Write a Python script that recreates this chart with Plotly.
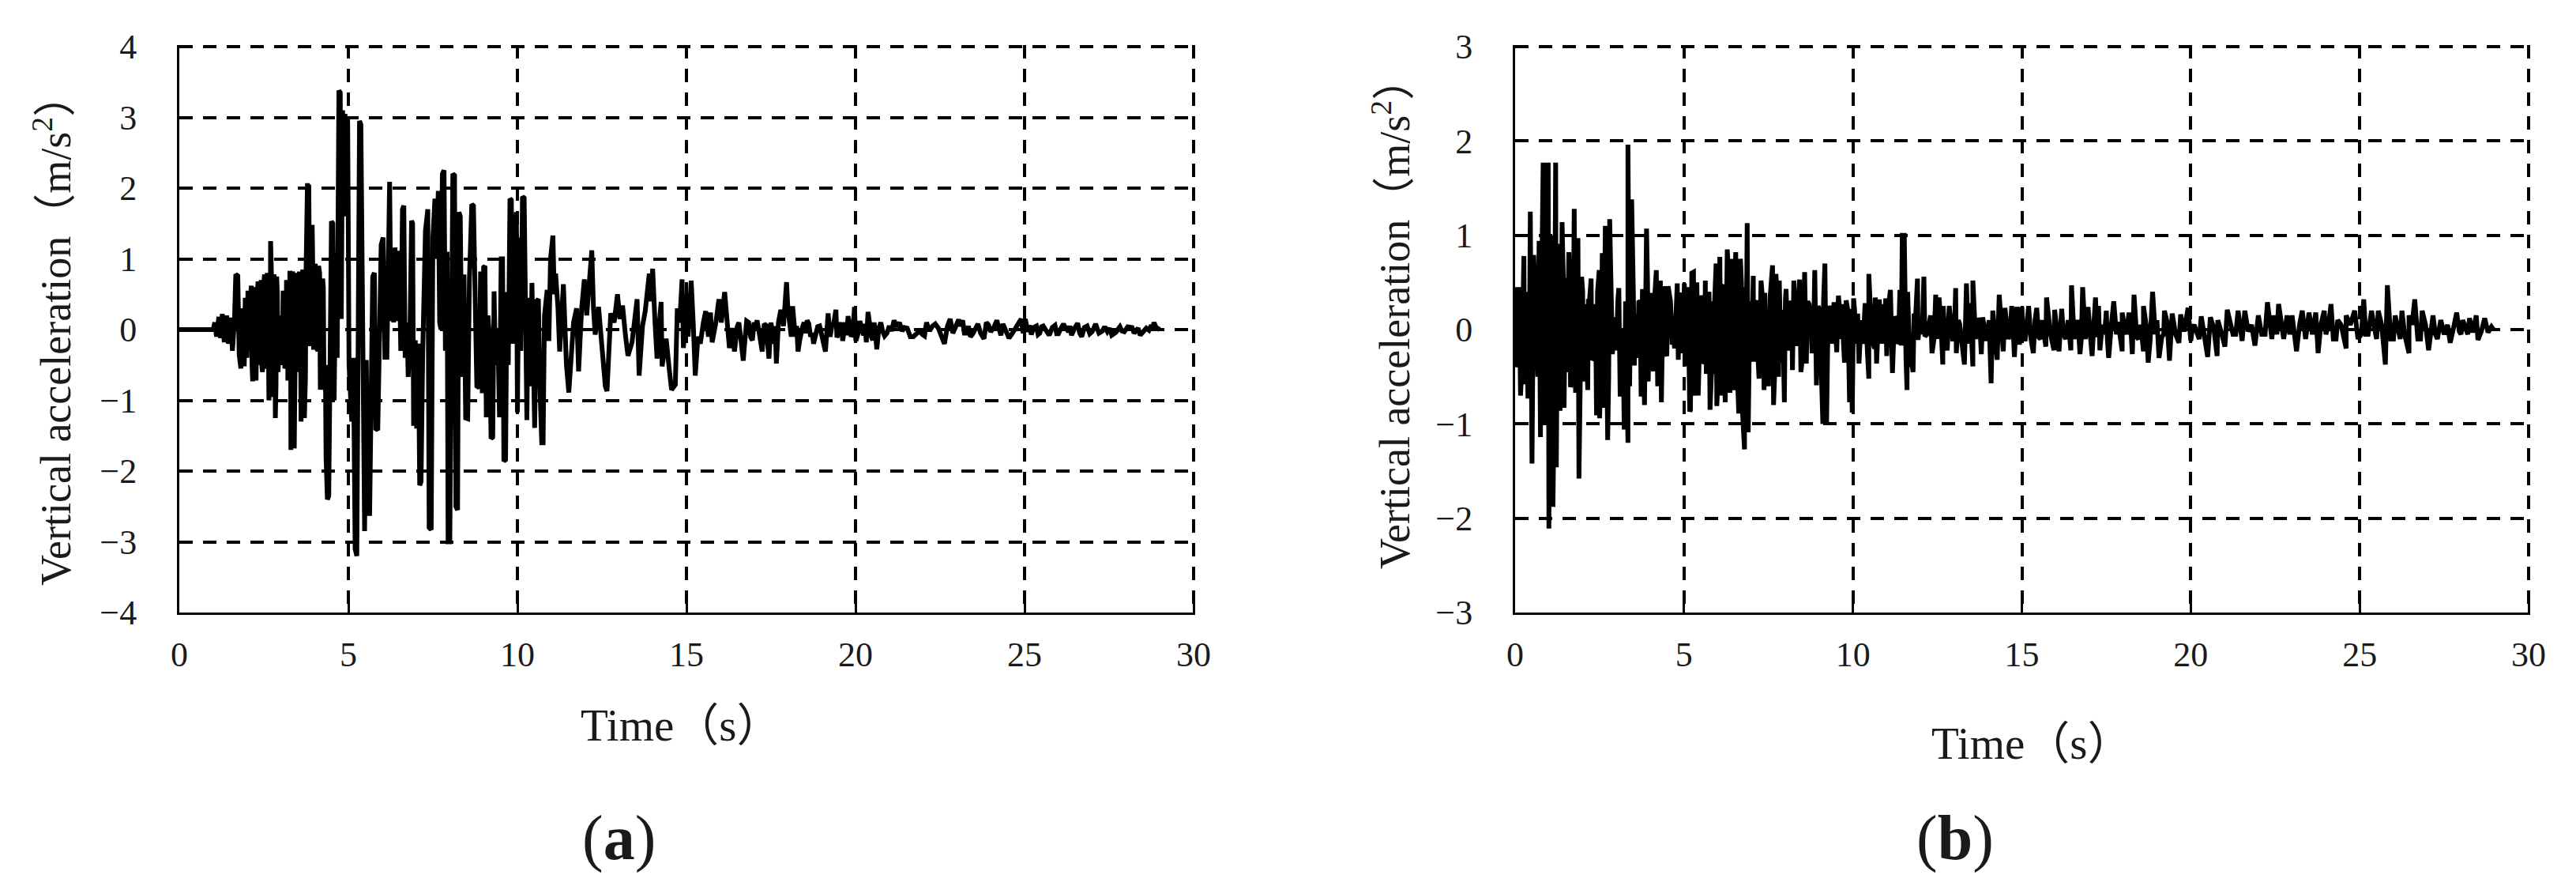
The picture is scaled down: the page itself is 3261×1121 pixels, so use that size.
import plotly.graph_objects as go

# Panel (a): (time s, vertical acceleration m/s2)
wave_a = [
(0,0),(1.0,0),(1.05,.1),(1.1,-.1),(1.17,.18),(1.22,-.12),(1.27,.22),(1.33,-.18),(1.4,.2),(1.45,-.2),(1.52,.17),(1.57,-.3),
(1.63,.12),(1.67,.78),(1.73,.76),(1.77,-.35),(1.82,-.55),(1.87,.3),(1.92,-.52),(1.95,.45),(2.0,-.4),(2.03,.55),(2.08,-.3),
(2.13,.62),(2.17,-.73),(2.22,.6),(2.27,-.72),(2.33,.68),(2.37,-.1),(2.42,.7),(2.46,-.6),(2.52,.78),(2.57,-.55),(2.6,.8),
(2.65,-1.0),(2.7,1.25),(2.75,-.95),(2.8,.78),(2.84,-1.25),(2.88,.75),(2.92,-.6),(2.97,.05),(3.02,-.5),(3.07,.55),(3.12,-.55),
(3.17,.7),(3.21,-.72),(3.27,.83),(3.3,-1.7),(3.35,.82),(3.4,-1.68),(3.45,.8),(3.5,-.3),(3.55,.82),(3.6,-1.3),(3.65,.85),
(3.7,-1.25),(3.75,.88),(3.79,2.07),(3.83,2.05),(3.86,-.2),(3.93,1.48),(3.97,-.25),(4.02,.93),(4.07,-.27),(4.12,.9),(4.17,-.85),
(4.24,.72),(4.28,-.85),(4.34,-1.8),(4.38,-2.4),(4.42,-2.35),(4.46,-1.0),(4.5,1.53),(4.54,1.5),(4.58,-1.0),(4.63,1.08),(4.67,-.4),
(4.72,3.38),(4.76,3.35),(4.79,.15),(4.83,3.1),(4.87,1.6),(4.9,3.05),(4.94,1.7),(4.98,2.95),(5.02,-.5),(5.06,-1.0),(5.1,-1.3),
(5.15,-.4),(5.2,-3.1),(5.25,-3.2),(5.29,-.3),(5.33,2.95),(5.37,2.9),(5.43,-.4),(5.48,-2.85),(5.53,-.43),(5.58,-2.6),(5.63,-2.6),
(5.68,-.43),(5.72,.75),(5.77,.8),(5.81,-1.4),(5.87,-1.42),(5.92,.1),(5.97,1.2),(6.03,1.3),(6.08,-.39),(6.14,-.39),(6.18,1.1),
(6.22,2.09),(6.26,.12),(6.3,1.1),(6.34,.1),(6.38,1.16),(6.42,.12),(6.46,1.08),(6.5,1.08),(6.55,-.3),(6.6,1.7),(6.64,1.75),
(6.68,-.4),(6.73,.1),(6.77,-.67),(6.82,-.1),(6.87,1.54),(6.9,1.5),(6.93,-1.36),(6.98,-.15),(7.02,-1.4),(7.07,-.2),(7.11,-2.2),
(7.15,-2.15),(7.2,-.3),(7.28,1.4),(7.35,1.7),(7.39,-2.8),(7.45,-2.83),(7.5,1.3),(7.56,1.85),(7.6,1.0),(7.66,1.96),(7.7,.1),
(7.74,0),(7.78,2.2),(7.83,2.25),(7.87,-.3),(7.92,1.1),(7.95,-3.0),(8.0,-3.0),(8.05,.6),(8.09,2.2),(8.14,2.18),(8.18,-2.5),
(8.23,-2.55),(8.27,1.66),(8.31,1.6),(8.36,-.67),(8.42,.78),(8.47,-1.25),(8.53,-1.26),(8.58,.7),(8.65,1.77),(8.7,1.75),(8.76,.2),
(8.8,-.8),(8.87,-.82),(8.91,.82),(8.96,-.9),(9.0,.88),(9.04,.9),(9.08,-1.24),(9.13,.2),(9.18,-.15),(9.22,-1.54),(9.27,-1.52),
(9.31,.54),(9.35,-.5),(9.42,0),(9.47,-1.24),(9.52,1.0),(9.56,1.0),(9.6,-1.86),(9.65,-1.84),(9.69,.53),(9.73,-.5),(9.78,1.85),
(9.82,1.83),(9.87,-.2),(9.92,1.1),(9.97,1.66),(10.0,-1.17),(10.05,1.3),(10.1,-.3),(10.15,1.88),(10.2,1.86),(10.24,-.5),
(10.28,-1.28),(10.32,.45),(10.38,-.8),(10.43,.66),(10.48,-1.0),(10.51,-1.39),(10.56,.4),(10.62,.43),(10.67,-.9),(10.72,-1.6),
(10.76,-1.6),(10.8,.19),(10.88,.56),(10.93,-.16),(10.98,1.0),(11.05,1.33),(11.09,.5),(11.13,.79),(11.2,.3),(11.25,-.31),
(11.36,.64),(11.45,-.5),(11.52,-.89),(11.58,-.5),(11.66,.1),(11.75,.3),(11.81,-.59),(11.9,.3),(11.98,.71),(12.05,.2),(12.13,.7),
(12.2,1.12),(12.25,.3),(12.3,-.07),(12.4,.32),(12.5,-.3),(12.6,-.8),(12.65,-.87),(12.7,-.4),(12.76,.23),(12.86,.1),(12.96,.5),
(13.03,.15),(13.11,.34),(13.2,-.1),(13.27,-.37),(13.39,-.18),(13.5,.2),(13.54,.43),(13.6,-.65),(13.7,.05),(13.78,.26),(13.9,.79),
(13.95,.4),(14.0,.86),(14.07,.1),(14.13,-.41),(14.2,.1),(14.25,.39),(14.28,-.52),(14.4,-.13),(14.5,-.6),(14.56,-.85),(14.67,-.78),
(14.73,.3),(14.8,.1),(14.87,.71),(14.91,-.26),(15.0,.5),(15.05,-.1),(15.14,.69),(15.2,.1),(15.26,-.65),(15.34,-.1),(15.41,-.2),
(15.5,.1),(15.57,.26),(15.65,-.1),(15.71,.24),(15.76,-.18),(15.87,.1),(15.96,.43),(16.03,.1),(16.13,.53),(16.2,.1),(16.27,-.26),
(16.34,.02),(16.42,-.31),(16.5,.04),(16.6,-.1),(16.68,-.44),(16.78,.12),(16.9,-.11),(17.0,.1),(17.09,.13),(17.17,-.1),(17.24,-.31),
(17.36,.06),(17.44,-.41),(17.5,.1),(17.58,-.2),(17.66,-.48),(17.72,.1),(17.79,.28),(17.87,.05),(17.96,.67),(18.0,.3),(18.06,-.03),
(18.14,.33),(18.22,-.1),(18.3,-.31),(18.4,.02),(18.48,.1),(18.57,.13),(18.67,-.1),(18.76,-.2),(18.88,.04),(19.0,-.1),(19.11,-.31),
(19.19,.23),(19.3,.05),(19.42,.28),(19.45,-.11),(19.55,.05),(19.62,-.16),(19.7,.1),(19.78,.19),(19.87,-.1),(19.97,.32),(20.01,-.16),
(20.13,.12),(20.24,-.08),(20.32,-.18),(20.37,.25),(20.47,-.1),(20.55,.1),(20.63,-.28),(20.75,.1),(20.86,-.09),
(21.0,.05),(21.14,.13),(21.3,.1),(21.45,.03),(21.62,-.1),(21.8,-.07),(21.98,-.07),(22.1,.1),(22.28,.05),(22.45,.02),(22.63,-.2),
(22.8,.15),(22.95,.05),(23.05,.14),(23.17,.13),(23.28,-.05),(23.4,-.1),(23.55,.03),(23.7,-.05),(23.8,-.13),(23.87,.1),(24.0,-.03),
(24.18,.13),(24.3,-.08),(24.42,.02),(24.54,-.12),(24.72,.02),(24.9,.15),(24.96,-.05),(25.02,.15),(25.1,-.03),(25.2,-.07),(25.35,.05),
(25.45,-.05),(25.55,.05),(25.73,-.08),(25.9,.06),(26.0,-.06),(26.15,.08),(26.3,-.03),(26.39,-.08),(26.57,.09),(26.69,-.1),(26.85,.05),
(27.0,-.03),(27.1,.08),(27.3,-.02),(27.45,-.03),(27.58,-.08),(27.82,.04),(27.95,-.03),(28.18,.03),(28.3,-.02),(28.42,-.08),
(28.6,.02),(28.75,.06),(28.83,.1),(28.92,.02),(29.0,0)]

# Panel (a): interior of the solid band and fine jitter of the tail
detail_a = [
(1.9,.1),(2.05,-.2),(2.1,.4),(2.15,-.5),(2.2,.45),(2.25,-.45),(2.3,.5),(2.35,-.5),(2.4,.5),(2.44,-.5),(2.49,.6),(2.55,-.5),
(2.62,.6),(2.68,-.7),(2.73,.7),(2.78,-.8),(2.82,.6),(2.86,-.8),(2.9,.5),(2.95,-.3),(3.0,.2),(3.05,-.4),(3.1,.4),(3.15,-.5),
(3.19,.6),(3.24,-.6),(3.29,.7),(3.33,-.8),(3.38,.7),(3.43,-.7),(3.48,.7),(3.53,-.6),(3.58,.7),(3.63,-.8),(3.68,.7),(3.73,-.7),
(3.81,.5),(3.85,.5),(3.9,-.2),(3.95,.8),(4.0,-.25),(4.05,.8),(4.1,-.3),(4.15,.8),(4.2,-.6),(4.26,.6),(4.32,-.5),
(16.55,.1),(16.72,-.2),(16.84,.1),(16.95,-.15),(17.04,.05),(17.3,.08),(17.4,-.2),(17.54,-.1),(17.62,.05),(18.1,-.1),(18.26,.05),
(18.35,-.15),(18.44,.05),(18.52,-.05),(18.62,.08),(18.72,-.05),(18.82,-.1),(18.94,.05),(19.05,-.2),(19.25,-.1),(19.36,.1),(19.5,-.05),
(19.58,.1),(19.66,-.02),(19.74,-.08),(19.83,.05),(19.92,-.05),(20.08,-.05),(20.18,.02),(20.28,.08),(20.42,.02),(20.51,-.15),(20.59,-.05),
(20.69,.02),(20.8,-.02),(20.93,-.05),(21.07,-.02),(21.22,.04),(21.38,-.02),(21.53,.02),(21.71,-.1),(21.89,-.02),(22.04,-.09),(22.19,-.02),
(22.36,.08),(22.54,-.08),(22.72,.05),(22.88,-.05),(23.0,.1),(23.11,.05),(23.22,-.05),(23.34,.05),(23.47,-.06),(23.62,.08),(23.75,-.09),
(23.93,.07),(24.09,.03),(24.24,.02),(24.36,.08),(24.48,-.04),(24.63,-.06),(24.81,.1),(25.15,.06),(25.27,.03),(25.4,-.07),(25.5,.04),
(25.64,-.03),(25.82,.03),(25.95,-.06),(26.08,.02),(26.22,.02),(26.34,.05),(26.48,.02),(26.63,-.05),(26.77,.03),(26.93,-.06),(27.05,.02),
(27.2,-.05),(27.37,.04),(27.52,.02),(27.7,-.04),(27.88,-.02),(28.05,.04),(28.24,-.05),(28.36,.02),(28.51,-.04),(28.68,-.01),(28.79,.02),(28.87,.05)]
wave_a_all = sorted(wave_a + detail_a)

# Panel (b): upper and lower extremes of the record
peaks_b = [
(.05,.45),(.12,.45),(.26,.78),(.45,1.25),(.55,.79),(.71,.94),(.83,1.77),(.92,1.77),(.98,1.77),(1.1,1.0),(1.2,1.77),(1.29,.91),
(1.39,1.14),(1.49,.55),(1.59,.82),(1.75,1.28),(1.86,.97),(1.97,.56),(2.07,.27),(2.17,.3),(2.25,.54),(2.38,.27),(2.49,.63),(2.58,.81),
(2.67,1.1),(2.8,1.17),(2.93,.13),(3.07,.44),(3.19,0),(3.34,1.96),(3.45,1.38),(3.55,.16),(3.66,.29),(3.77,.43),(3.89,1.07),(4.0,.39),
(4.18,.63),(4.3,.52),(4.42,.46),(4.53,.46),(4.67,.08),(4.8,.49),(4.92,.39),(5.01,.49),(5.12,.45),(5.23,.6),
(5.28,.61),(5.38,.5),(5.5,.36),(5.63,.52),(5.74,.4),(5.85,.3),(5.95,.7),(6.06,.77),(6.18,.47),(6.28,.85),(6.4,.75),(6.53,.82),
(6.67,.75),(6.79,.45),(6.87,1.13),(7.05,.57),(7.16,.31),(7.28,.52),(7.39,.39),(7.49,0),(7.62,.68),(7.72,.59),(7.82,.52),(7.92,.21),
(8.02,.43),(8.14,.27),(8.25,.52),(8.42,.53),(8.57,.61),(8.7,.27),(8.76,.15),(8.87,.63),(9.01,.21),(9.17,.7),(9.3,.25),(9.44,.29),
(9.57,.36),(9.68,.27),(9.8,.31),(9.92,.22),(10.02,.33),(10.14,.17),(10.24,.1),(10.36,.28),(10.47,.59),(10.56,.27),(10.66,.34),
(10.78,.32),(10.88,.27),(10.97,.33),(11.11,.42),(11.23,.14),(11.39,.42),(11.46,1.0),(11.52,1.0),(11.62,.4),(11.81,.17),(11.91,.54),
(12.01,.1),(12.1,.56),(12.25,.1),(12.45,.37),(12.55,.34),(12.67,.25),(12.85,.25),(13.04,.44),(13.16,.06),(13.36,.49),(13.45,.28),
(13.55,.52),(13.7,.12),(13.84,.13),(14.14,.2),(14.33,.37),(14.5,.23),(14.7,.25),(14.85,.24),(15.0,.24),(15.2,.25),(15.44,.23),
(15.73,.34),(15.97,.21),(16.18,.22),(16.47,.47),(16.64,.1),(16.8,.45),(16.96,.24),(17.18,.34),(17.27,.25),(17.5,.2),(17.72,.3),
(17.97,.18),(18.17,.18),(18.32,.37),(18.6,.25),(18.87,.4),(19.22,.2),(19.45,.17),(19.7,.16),(19.92,.23),(20.1,.05),(20.31,.14),
(20.58,.13),(20.8,.1),(21.08,.21),(21.4,.2),(21.6,.2),(21.8,.05),(22.0,.15),(22.27,.29),(22.45,.15),(22.6,.27),(22.85,.15),(23.0,.15),
(23.3,.2),(23.5,.18),(23.7,.18),(23.95,.2),(24.15,.27),(24.35,.1),(24.6,.15),(24.85,.2),(25.12,.32),(25.35,.2),(25.55,.2),(25.82,.47),
(26.05,.15),(26.25,.2),(26.46,.15),(26.63,.32),(26.85,.2),(27.17,.15),(27.4,.1),(27.6,.05),(27.87,.18),(28.05,.1),(28.25,.12),
(28.45,.15),(28.7,.12),(28.9,.03)]
troughs_b = [
(.02,-.4),(.09,-.4),(.16,-.7),(.28,-.58),(.38,-.73),(.5,-1.42),(.63,-.22),(.75,-1.14),(.87,-1.01),(1.0,-2.11),(1.06,-1.6),(1.12,-1.88),
(1.22,-1.46),(1.33,-.86),(1.45,-.83),(1.54,-.45),(1.64,-.61),(1.79,-.67),(1.89,-1.58),(2.02,-.55),(2.15,-.64),(2.27,-.32),(2.41,-.91),
(2.5,-.94),(2.62,-.83),(2.74,-1.17),(2.88,-.26),(3.0,-.22),(3.11,-.71),(3.23,-1.06),(3.34,-1.2),(3.53,-.38),(3.6,-.3),(3.73,-.71),
(3.83,-.8),(3.94,-.55),(4.1,-.44),(4.22,-.6),(4.33,-.77),(4.49,-.28),(4.65,-.16),(4.83,-.32),(5.04,-.39),(5.17,-.87),
(5.19,-.85),(5.33,-.7),(5.42,-.7),(5.48,-.14),(5.58,-.36),(5.66,-.47),(5.77,-.85),(5.86,-.47),(5.97,-.81),(6.09,-.7),(6.22,-.77),
(6.36,-.67),(6.48,-.64),(6.62,-.89),(6.72,-.8),(6.79,-1.27),(6.9,-1.09),(7.06,-.34),(7.22,-.52),(7.37,-.64),(7.5,-.6),(7.65,-.8),
(7.8,-.5),(7.97,-.77),(8.08,-.2),(8.21,-.43),(8.34,-.15),(8.46,-.45),(8.62,-.36),(8.79,-.25),(8.92,-.59),(9.11,-1.0),(9.22,-1.0),
(9.25,-.21),(9.38,-.15),(9.52,-.24),(9.63,-.1),(9.75,-.35),(9.9,-.77),(9.98,-.88),(10.08,-.15),(10.18,-.36),(10.3,-.15),(10.47,-.52),
(10.6,-.15),(10.7,-.36),(10.85,-.15),(11.0,-.28),(11.17,-.46),(11.3,-.15),(11.43,-.17),(11.6,-.64),(11.69,-.4),(11.78,-.45),(11.93,-.11),
(12.13,-.07),(12.34,-.25),(12.5,-.1),(12.66,-.37),(12.79,-.22),(12.95,-.1),(13.06,-.25),(13.3,-.37),(13.42,-.15),(13.55,-.39),(13.8,-.26),
(14.09,-.57),(14.27,-.32),(14.45,-.23),(14.6,-.1),(14.78,-.29),(14.93,-.16),(15.1,-.1),(15.34,-.25),(15.55,-.1),(15.71,-.18),(15.85,-.05),
(15.95,-.22),(16.1,-.23),(16.3,-.1),(16.45,-.22),(16.72,-.26),(16.88,-.1),(17.08,-.28),(17.31,-.22),(17.45,-.05),(17.57,-.3),(17.8,-.05),
(17.97,-.23),(18.1,-.05),(18.27,-.26),(18.45,-.1),(18.6,-.23),(18.74,-.35),(18.95,-.05),(19.06,-.3),(19.2,-.05),(19.37,-.33),(19.65,-.14),
(20.0,-.12),(20.25,-.1),(20.5,-.29),(20.78,-.28),(21.01,-.18),(21.25,-.05),(21.52,-.12),(21.9,-.17),(22.1,-.05),(22.4,-.1),(22.75,-.1),
(23.13,-.23),(23.4,-.1),(23.77,-.25),(24.0,-.05),(24.3,-.1),(24.6,-.2),(24.95,-.1),(25.25,-.05),(25.5,-.1),(25.76,-.37),(26.0,-.1),(26.2,-.1),
(26.46,-.25),(26.8,-.1),(27.04,-.22),(27.3,-.1),(27.68,-.14),(28.0,-.05),(28.2,-.05),(28.5,-.11),(28.8,-.03),(28.96,0)]

# Panel (b): interior of the solid band, between the extremes above
core_b = [
(.07,.3),(.2,-.4),(.33,.4),(.42,-.4),(.58,.5),(.67,-.5),(.79,.6),(.94,-.6),(1.04,.7),(1.16,-.7),(1.26,.6),(1.36,-.6),(1.43,.5),(1.52,-.4),
(1.62,.5),(1.71,-.5),(1.83,.5),(1.93,-.5),(2.0,.4),(2.11,-.4),(2.2,.3),(2.32,-.3),(2.44,.4),(2.54,-.5),(2.65,.5),(2.77,-.5),(2.85,.4),
(2.97,-.2),(3.04,.3),(3.15,-.4),(3.27,.3),(3.39,-.6),(3.5,.4),(3.63,-.3),(3.7,.3),(3.8,-.4),(3.92,.5),(4.04,-.35),(4.14,.4),(4.26,-.4),
(4.38,.35),(4.46,-.25),(4.6,.3),(4.72,-.2),(4.87,.3),(4.96,-.25),(5.07,.3),(5.15,-.4),(5.31,-.5),(5.35,.4),(5.45,-.4),(5.55,.3),(5.61,-.35),
(5.7,.3),(5.82,-.4),(5.9,.25),(6.01,-.5),(6.12,.45),(6.2,-.5),(6.33,.5),(6.43,-.5),(6.5,.5),(6.58,-.5),(6.7,.5),(6.83,-.6),(6.95,.3),(7.0,-.25),
(7.12,.25),(7.19,-.3),(7.33,.3),(7.44,-.35),(7.55,.35),(7.68,-.5),(7.77,.3),(7.87,-.35),(8.0,.3),(8.11,-.2),(8.18,.3),(8.3,-.15),(8.38,.3),
(8.52,-.25),(8.66,.3),(8.83,-.15),(8.97,.25),(9.06,-.3),(9.13,.3),(9.2,-.3),(9.35,.2),(9.48,-.15),(9.6,.25),(9.72,-.15),(9.85,.2),(9.95,-.3),
(10.05,.2),(10.2,-.2),(10.33,.2),(10.43,-.25),(10.52,.2),(10.64,-.2),(10.75,.2),(10.92,-.15),(11.05,.25),(11.14,-.25),(11.27,.1),(11.35,-.1),
(11.57,-.3),(11.7,-.25),(11.85,.1),(11.97,.1),(12.05,-.05),(12.2,-.05),(12.3,.15),(12.4,-.1),(12.6,.1),(12.73,-.1),(12.9,.12),(13.0,-.1),
(13.12,.1),(13.22,-.1),(13.48,.15),(13.63,-.1),(13.75,.08),(13.95,-.12),(14.03,.1),(14.2,-.1),(14.4,-.05),(14.55,.1),(14.65,-.05),(14.73,.1),
(14.9,.1),(15.05,-.1),(15.15,.05),(15.27,-.1),(15.39,.1),(15.5,-.08),(15.6,.1),(15.8,.08),(16.02,.05),(16.23,-.05),(16.37,.1),(16.55,-.1),
(16.67,.05),(16.76,-.1),(16.92,.08),(17.03,-.08),(17.13,.05),(17.23,-.08),(17.38,.05),(17.53,-.1),(17.65,.05),(17.85,.08),(18.03,.05),(18.22,.05),
(18.4,-.08),(18.52,.05),(18.68,.05),(18.8,-.1),(19.0,.1),(19.14,-.08),(19.3,.08),(19.55,-.05),(19.8,-.02),(20.05,.02),(20.2,-.05),(20.4,-.1),
(20.68,.02),(20.92,-.05),(21.18,.05),(21.33,-.05),(21.7,-.02),(22.2,-.05),(22.35,.05),(22.55,-.05),(22.68,.05),(22.93,-.05),(23.22,.05),
(23.6,-.05),(23.85,.05),(24.08,.05),(24.22,-.1),(24.45,.05),(24.72,.05),(25.05,-.05),(25.18,-.05),(25.42,.05),(25.65,.05),(25.92,-.1),
(26.12,.05),(26.33,-.05),(26.55,.05),(26.72,-.1),(26.95,.05),(27.24,-.05),(27.5,-.05),(27.78,.02),(27.95,-.02),(28.12,.02),(28.35,-.03),(28.6,-.02)]
wave_b = [(0, 0)] + sorted(peaks_b + troughs_b + core_b)

x_ticks = [0, 5, 10, 15, 20, 25, 30]
y_ticks_a = [-4, -3, -2, -1, 0, 1, 2, 3, 4]
y_ticks_b = [-3, -2, -1, 0, 1, 2, 3]
y_title = "Vertical acceleration（m/s<sup>2</sup>）"
x_title = "Time（s）"
MINUS = "\u2212"

W, H = 3261, 1121
FONT = "Liberation Serif, Times New Roman, Noto Sans CJK SC, serif"


def px_x(v):
    return v / W


def px_y(v):
    return 1 - v / H


def xaxis(dom):
    # Range runs 2px past 30 so the last gridline is kept by the library
    return dict(
        domain=[px_x(dom[0]), px_x(dom[1] + 2)], range=[0, 30 * (1 + 2 / (dom[1] - dom[0]))], tickmode="array",
        tickvals=x_ticks, ticktext=[str(t) for t in x_ticks], showgrid=True, gridcolor="black", gridwidth=3.5,
        griddash="17px,13px", showline=True, linecolor="black", linewidth=3, zeroline=False,
        ticks="inside", ticklen=20, tickwidth=3, tickcolor="black", ticklabelstandoff=12,
        tickfont=dict(family=FONT, size=44, color="#1a1a1a"),
    )


def yaxis(anchor, top, ticks):
    return dict(
        domain=[px_y(775), px_y(57)], range=[-top, top + 2 * top * 2 / 716], anchor=anchor, tickmode="array",
        tickvals=ticks, ticktext=[str(t).replace("-", MINUS) for t in ticks], showgrid=True, gridcolor="black",
        gridwidth=3.5, griddash="17px,13px", showline=True, linecolor="black", linewidth=3, zeroline=False,
        ticks="", ticklabelstandoff=42,
        tickfont=dict(family=FONT, size=44, color="#1a1a1a"),
    )


fig = go.Figure()
for wave, xa, ya in [(wave_a_all, "x", "y"), (wave_b, "x2", "y2")]:
    fig.add_trace(go.Scatter(
        x=[p[0] for p in wave], y=[p[1] for p in wave], xaxis=xa, yaxis=ya, mode="lines",
        line=dict(color="black", width=6), showlegend=False, hoverinfo="skip",
    ))


def note(text, x, y, size, angle=0):
    return dict(text=text, x=px_x(x), y=px_y(y), xref="paper", yref="paper", showarrow=False,
                xanchor="center", yanchor="middle", textangle=angle,
                font=dict(family=FONT, size=size, color="#1a1a1a"))


fig.update_layout(
    width=W, height=H, margin=dict(l=0, r=0, t=0, b=0, autoexpand=False), paper_bgcolor="white", plot_bgcolor="white",
    xaxis=xaxis((227, 1511)), yaxis=yaxis("x", 4, y_ticks_a),
    xaxis2=dict(xaxis((1918, 3201)), anchor="y2"), yaxis2=yaxis("x2", 3, y_ticks_b),
    annotations=[
        note(y_title, 66, 418, 54, -90),
        note(y_title, 1762, 397, 54, -90),
        note(x_title, 862, 917, 57),
        note(x_title, 2572, 940, 57),
        note("(<b>a</b>)", 783, 1060, 80),
        note("(<b>b</b>)", 2475, 1060, 80),
    ],
)

fig.write_html("out.html", post_script="document.body.style.margin='0';", config={"displayModeBar": False})
